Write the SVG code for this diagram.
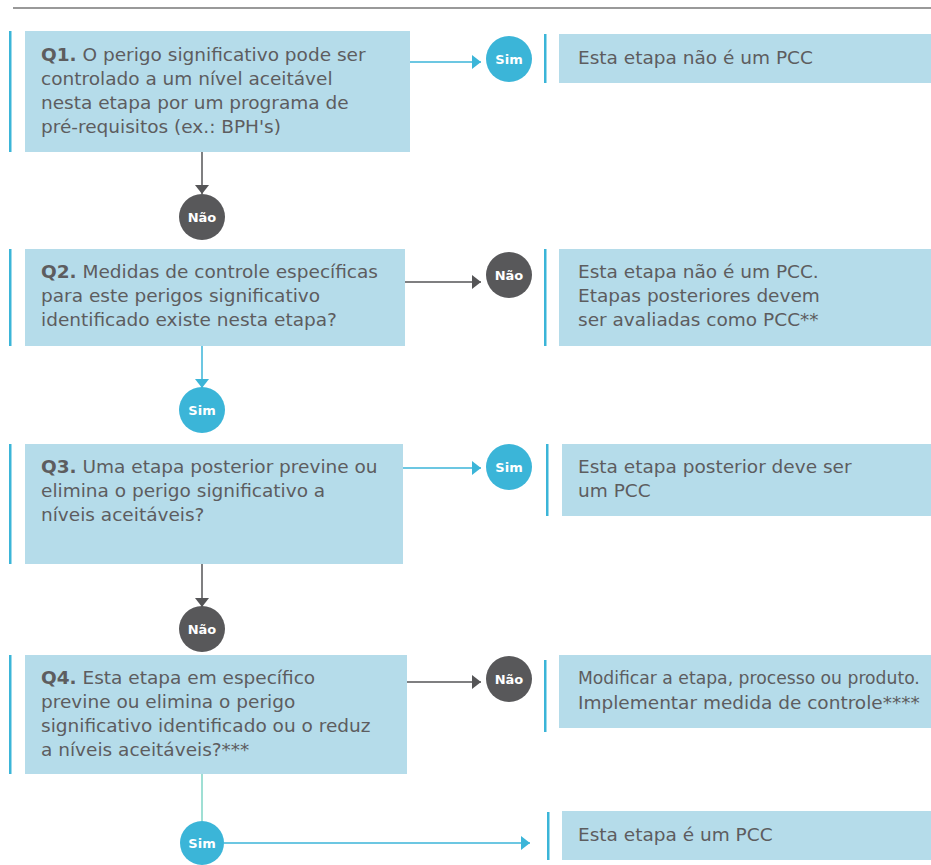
<svg xmlns="http://www.w3.org/2000/svg" width="931" height="865" viewBox="0 0 931 865">
<style>
.box{fill:#b5dcea}
.bar{fill:#3bb5d8}
.t{font-family:"DejaVu Sans",Verdana,sans-serif;font-size:18.5px;fill:#5d5d5f}
.q{font-weight:bold}
.cb{fill:#3bb5d8}
.cg{fill:#58585a}
.cl{font-family:"DejaVu Sans",Verdana,sans-serif;font-size:13px;font-weight:bold;fill:#fff;text-anchor:middle}
.lb{stroke:#3bb5d8;stroke-width:1.5;fill:none}
.lg{stroke:#555557;stroke-width:1.5;fill:none}
.lt{stroke:#7fd4c6;stroke-width:1.5;fill:none}
</style>
<defs>
<marker id="ab" markerWidth="9" markerHeight="14" refX="9" refY="7" orient="auto" markerUnits="userSpaceOnUse"><path d="M0,0 L9,7 L0,14 Z" fill="#3bb5d8"/></marker>
<marker id="ag" markerWidth="9" markerHeight="14" refX="9" refY="7" orient="auto" markerUnits="userSpaceOnUse"><path d="M0,0 L9,7 L0,14 Z" fill="#555557"/></marker>
</defs>
<line x1="13" y1="8" x2="931" y2="8" stroke="#777" stroke-width="1.5"/>

<g id="connectors">
<line class="lb" x1="410" y1="62" x2="481" y2="62" marker-end="url(#ab)"/>
<line class="lg" x1="202" y1="152" x2="202" y2="194" marker-end="url(#ag)"/>
<line class="lg" x1="405" y1="282" x2="481" y2="282" marker-end="url(#ag)"/>
<line class="lb" x1="202" y1="346" x2="202" y2="388" marker-end="url(#ab)"/>
<line class="lb" x1="403" y1="468" x2="481" y2="468" marker-end="url(#ab)"/>
<line class="lg" x1="202" y1="564" x2="202" y2="607" marker-end="url(#ag)"/>
<line class="lg" x1="407" y1="682" x2="481" y2="682" marker-end="url(#ag)"/>
<line class="lt" x1="202" y1="774" x2="202" y2="821"/>
<line class="lb" x1="224" y1="843" x2="530" y2="843" marker-end="url(#ab)"/>
</g>

<g id="q1">
<rect class="bar" x="9" y="31" width="2.5" height="121"/>
<rect class="box" x="25" y="31" width="385" height="121"/>
<text class="t" x="41" y="61"><tspan class="q">Q1.</tspan> O perigo significativo pode ser</text>
<text class="t" x="41" y="85">controlado a um nível aceitável</text>
<text class="t" x="41" y="109">nesta etapa por um programa de</text>
<text class="t" x="41" y="133">pré-requisitos (ex.: BPH's)</text>
</g>
<g id="sim1"><circle class="cb" cx="509" cy="59" r="23"/><text class="cl" x="509" y="63.5">Sim</text></g>
<g id="r1">
<rect class="bar" x="544" y="34" width="2.5" height="49"/>
<rect class="box" x="559" y="34" width="372" height="49"/>
<text class="t" x="578" y="64">Esta etapa não é um PCC</text>
</g>

<g id="nao1"><circle class="cg" cx="202" cy="217" r="23"/><text class="cl" x="202" y="221.5">Não</text></g>

<g id="q2">
<rect class="bar" x="9" y="249" width="2.5" height="97"/>
<rect class="box" x="25" y="249" width="380" height="97"/>
<text class="t" x="41" y="278"><tspan class="q">Q2.</tspan> Medidas de controle específicas</text>
<text class="t" x="41" y="302">para este perigos significativo</text>
<text class="t" x="41" y="326">identificado existe nesta etapa?</text>
</g>
<g id="nao2"><circle class="cg" cx="509" cy="275" r="23"/><text class="cl" x="509" y="279.5">Não</text></g>
<g id="r2">
<rect class="bar" x="544" y="249" width="2.5" height="97"/>
<rect class="box" x="559" y="249" width="372" height="97"/>
<text class="t" x="578" y="278">Esta etapa não é um PCC.</text>
<text class="t" x="578" y="302">Etapas posteriores devem</text>
<text class="t" x="578" y="326">ser avaliadas como PCC**</text>
</g>

<g id="sim2"><circle class="cb" cx="202" cy="410" r="23"/><text class="cl" x="202" y="414.5">Sim</text></g>

<g id="q3">
<rect class="bar" x="9" y="444" width="2.5" height="120"/>
<rect class="box" x="25" y="444" width="378" height="120"/>
<text class="t" x="41" y="473"><tspan class="q">Q3.</tspan> Uma etapa posterior previne ou</text>
<text class="t" x="41" y="497">elimina o perigo significativo a</text>
<text class="t" x="41" y="521">níveis aceitáveis?</text>
</g>
<g id="sim3"><circle class="cb" cx="509" cy="467" r="23"/><text class="cl" x="509" y="471.5">Sim</text></g>
<g id="r3">
<rect class="bar" x="546" y="444" width="2.5" height="72"/>
<rect class="box" x="562" y="444" width="369" height="72"/>
<text class="t" x="578" y="473">Esta etapa posterior deve ser</text>
<text class="t" x="578" y="497">um PCC</text>
</g>

<g id="nao3"><circle class="cg" cx="202" cy="629" r="23"/><text class="cl" x="202" y="633.5">Não</text></g>

<g id="q4">
<rect class="bar" x="9" y="655" width="2.5" height="119"/>
<rect class="box" x="25" y="655" width="382" height="119"/>
<text class="t" x="41" y="684"><tspan class="q">Q4.</tspan> Esta etapa em específico</text>
<text class="t" x="41" y="708">previne ou elimina o perigo</text>
<text class="t" x="41" y="732">significativo identificado ou o reduz</text>
<text class="t" x="41" y="756">a níveis aceitáveis?***</text>
</g>
<g id="nao4"><circle class="cg" cx="509" cy="679" r="23"/><text class="cl" x="509" y="683.5">Não</text></g>
<g id="r4">
<rect class="bar" x="544" y="660" width="2.5" height="72"/>
<rect class="box" x="559" y="655" width="372" height="73"/>
<text class="t" x="578" y="684" style="font-size:17.2px">Modificar a etapa, processo ou produto.</text>
<text class="t" x="578" y="709">Implementar medida de controle****</text>
</g>

<g id="sim4"><circle class="cb" cx="202" cy="843" r="22"/><text class="cl" x="202" y="847.5">Sim</text></g>
<g id="r5">
<rect class="bar" x="547" y="812" width="2.5" height="48"/>
<rect class="box" x="562" y="811" width="369" height="49"/>
<text class="t" x="578" y="841">Esta etapa é um PCC</text>
</g>
</svg>
